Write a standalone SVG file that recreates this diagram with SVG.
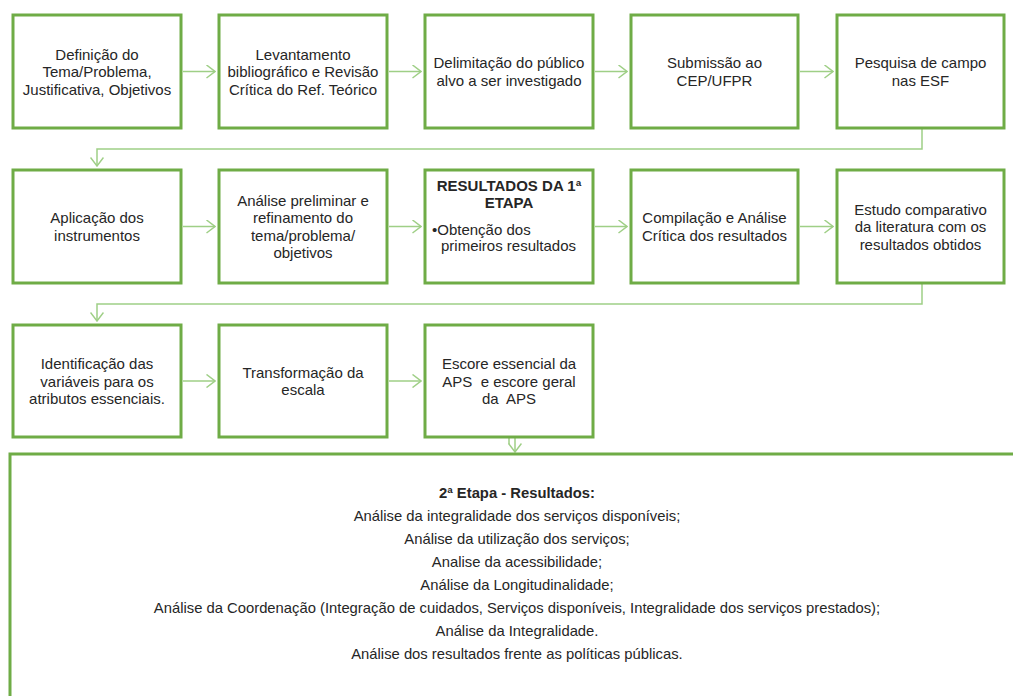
<svg xmlns="http://www.w3.org/2000/svg" width="1013" height="696" viewBox="0 0 1013 696">
<defs>
<style>
.box{fill:#ffffff;stroke:#6fac46;stroke-width:3}
.t{font-family:"Liberation Sans",Arial,sans-serif;font-size:15px;fill:#262626;text-anchor:middle}
.b{font-weight:bold}
.l{text-anchor:start}
.c{fill:none;stroke:#9fcf86;stroke-width:1.5}
.s{font-family:"Liberation Sans",Arial,sans-serif;font-size:14.8px;fill:#262626;text-anchor:middle}
</style>
<marker id="chev" viewBox="0 0 10 14" refX="9" refY="7" markerWidth="10" markerHeight="14" markerUnits="userSpaceOnUse" orient="auto">
<path d="M0.5,0.5 L9,7 L0.5,13.5" fill="none" stroke="#9fcf86" stroke-width="1.5"/>
</marker>
</defs>
<rect width="1013" height="696" fill="#ffffff"/>
<g id="connectors">
<path class="c" d="M183,71.5 H215" marker-end="url(#chev)"/>
<path class="c" d="M389,71.5 H421" marker-end="url(#chev)"/>
<path class="c" d="M595,71.5 H627" marker-end="url(#chev)"/>
<path class="c" d="M800,71.5 H833" marker-end="url(#chev)"/>
<path class="c" d="M922,129 V149 H97 V166" marker-end="url(#chev)"/>
<path class="c" d="M183,226.5 H215" marker-end="url(#chev)"/>
<path class="c" d="M389,226.5 H421" marker-end="url(#chev)"/>
<path class="c" d="M595,226.5 H627" marker-end="url(#chev)"/>
<path class="c" d="M800,226.5 H833" marker-end="url(#chev)"/>
<path class="c" d="M922,284 V304 H97 V321" marker-end="url(#chev)"/>
<path class="c" d="M183,381 H215" marker-end="url(#chev)"/>
<path class="c" d="M389,381 H421" marker-end="url(#chev)"/>
<path class="c" d="M509,438 V444"/>
<path class="c" d="M515,438 V452" marker-end="url(#chev)"/>
</g>
<g id="n1"><rect class="box" x="13" y="15" width="168" height="113"/>
<text class="t" x="97"><tspan x="97" y="59.5">Definição do</tspan><tspan x="97" y="77">Tema/Problema,</tspan><tspan x="97" y="94.5">Justificativa, Objetivos</tspan></text></g>
<g id="n2"><rect class="box" x="219" y="15" width="168" height="113"/>
<text class="t"><tspan x="303" y="59.5">Levantamento</tspan><tspan x="303" y="77">bibliográfico e Revisão</tspan><tspan x="303" y="94.5">Crítica do Ref. Teórico</tspan></text></g>
<g id="n3"><rect class="box" x="425" y="15" width="168" height="113"/>
<text class="t"><tspan x="509" y="68">Delimitação do público</tspan><tspan x="509" y="85.5">alvo a ser investigado</tspan></text></g>
<g id="n4"><rect class="box" x="631" y="15" width="167" height="113"/>
<text class="t"><tspan x="714.5" y="68">Submissão ao</tspan><tspan x="714.5" y="85.5">CEP/UFPR</tspan></text></g>
<g id="n5"><rect class="box" x="837" y="15" width="167" height="113"/>
<text class="t"><tspan x="920.5" y="68">Pesquisa de campo</tspan><tspan x="920.5" y="85.5">nas ESF</tspan></text></g>
<g id="n6"><rect class="box" x="13" y="170" width="168" height="113"/>
<text class="t"><tspan x="97" y="223">Aplicação dos</tspan><tspan x="97" y="240.5">instrumentos</tspan></text></g>
<g id="n7"><rect class="box" x="219" y="170" width="168" height="113"/>
<text class="t"><tspan x="303" y="205.5">Análise preliminar e</tspan><tspan x="303" y="223">refinamento do</tspan><tspan x="303" y="240.5">tema/problema/</tspan><tspan x="303" y="258">objetivos</tspan></text></g>
<g id="n8"><rect class="box" x="425" y="170" width="168" height="113"/>
<text class="t b"><tspan x="509" y="191">RESULTADOS DA 1ª</tspan><tspan x="509" y="208">ETAPA</tspan></text>
<text class="t l"><tspan x="432" y="234.5">•Obtenção dos</tspan><tspan x="441" y="251">primeiros resultados</tspan></text></g>
<g id="n9"><rect class="box" x="631" y="170" width="167" height="113"/>
<text class="t"><tspan x="714.5" y="223">Compilação e Análise</tspan><tspan x="714.5" y="240.5">Crítica dos resultados</tspan></text></g>
<g id="n10"><rect class="box" x="837" y="170" width="167" height="113"/>
<text class="t"><tspan x="920.5" y="214.5">Estudo comparativo</tspan><tspan x="920.5" y="232">da literatura  com os</tspan><tspan x="920.5" y="249.5">resultados obtidos</tspan></text></g>
<g id="n11"><rect class="box" x="13" y="325" width="168" height="112"/>
<text class="t"><tspan x="97" y="369">Identificação das</tspan><tspan x="97" y="386.5">variáveis para os</tspan><tspan x="97" y="404">atributos essenciais.</tspan></text></g>
<g id="n12"><rect class="box" x="219" y="325" width="168" height="112"/>
<text class="t"><tspan x="303" y="377.5">Transformação da</tspan><tspan x="303" y="395">escala</tspan></text></g>
<g id="n13"><rect class="box" x="425" y="325" width="168" height="112"/>
<text class="t" xml:space="preserve"><tspan x="509" y="369">Escore essencial da</tspan><tspan x="509" y="386.5">APS  e escore geral</tspan><tspan x="509" y="404">da  APS</tspan></text></g>
<g id="n14"><rect class="box" x="10" y="454" width="1020" height="260"/>
<text class="s"><tspan class="b" x="517" y="498">2ª Etapa - Resultados:</tspan><tspan x="517" y="521">Análise da integralidade dos serviços disponíveis;</tspan><tspan x="517" y="544">Análise da utilização dos serviços;</tspan><tspan x="517" y="567">Analise da acessibilidade;</tspan><tspan x="517" y="590">Análise da Longitudinalidade;</tspan><tspan x="517" y="613">Análise da Coordenação (Integração de cuidados, Serviços disponíveis, Integralidade dos serviços prestados);</tspan><tspan x="517" y="636">Análise da Integralidade.</tspan><tspan x="517" y="659">Análise dos resultados frente as políticas públicas.</tspan></text></g>
</svg>
